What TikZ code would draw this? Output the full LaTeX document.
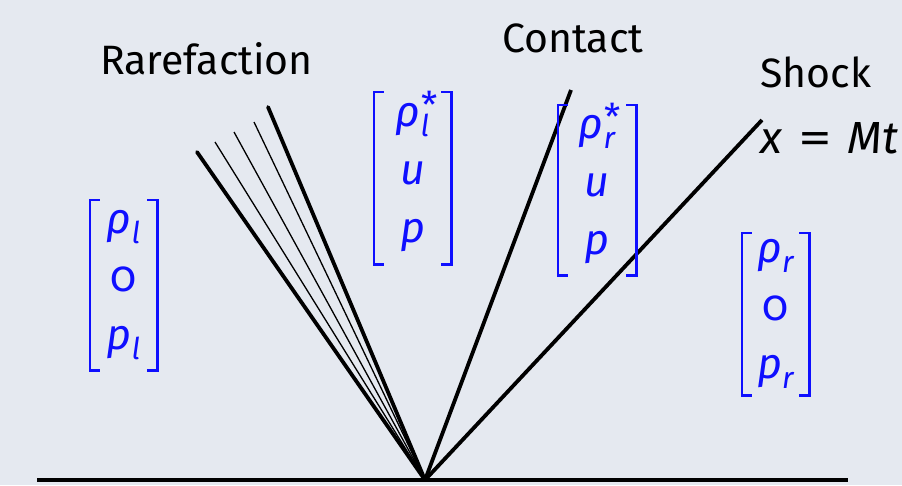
\documentclass[tikz,border=0pt]{standalone}
\usepackage{fontspec}
\setmainfont{Fira Sans}[Numbers=OldStyle]
\definecolor{bg}{RGB}{229,233,240}
\definecolor{vecblue}{RGB}{15,15,255}
% small raised / lowered indices
\newcommand{\lowidx}[1]{\raisebox{-0.22em}{\fontsize{30}{30}\selectfont\itshape #1}}
\newcommand{\highidx}[1]{\smash{\raisebox{0.2em}{\fontsize{37}{37}\selectfont\upshape #1}}}
\newcommand{\bothidx}[2]{\rlap{\hspace{0.02em}\highidx{#2}}\lowidx{#1}}
\newcommand{\eqsign}{\hspace{0.36em}\scalebox{1.5}[1]{\upshape =}\hspace{0.36em}}
\newcommand{\rowgap}{\\[8pt]}
\tikzset{
  wave/.style={line width=3.8pt, black},
  fan/.style={line width=1.3pt, black},
  ground/.style={line width=3.8pt, black},
  label/.style={font=\fontsize{41}{48}\selectfont, anchor=base west, inner sep=0},
  vec/.style={inner sep=0, align=center, text=vecblue,
    font=\fontsize{43}{50}\selectfont\itshape},
  bracket/.style={draw=vecblue, line width=2.6pt},
}
\newcommand{\brackets}[1]{%
  \draw[bracket] ([xshift=10pt]#1.north west) -- (#1.north west) -- (#1.south west) -- ([xshift=10pt]#1.south west);
  \draw[bracket] ([xshift=-10pt]#1.north east) -- (#1.north east) -- (#1.south east) -- ([xshift=-10pt]#1.south east);}
\begin{document}
\begin{tikzpicture}[x=1pt, y=-1pt]
  \fill[bg] (0,0) rectangle (902,485);
  \useasboundingbox (0,0) rectangle (902,485);

  % ground and origin of the fan
  \coordinate (gl) at (37,480);
  \coordinate (gr) at (848,480);
  \coordinate (o) at (425,480);
  \draw[ground] (gl) -- (gr);

  % rarefaction fan
  \coordinate (r1) at (197,152);
  \coordinate (r2) at (215,142);
  \coordinate (r3) at (234,132);
  \coordinate (r4) at (254,122);
  \coordinate (r5) at (268,107);
  \draw[wave, line cap=round] (o) -- (r1);
  \draw[fan] (o) -- (r2);
  \draw[fan] (o) -- (r3);
  \draw[fan] (o) -- (r4);
  \draw[wave, line cap=round] (o) -- (r5);

  % contact and shock
  \coordinate (c) at (571,90);
  \coordinate (s) at (762,120);
  \draw[wave] (o) -- (c);
  \draw[wave] (o) -- (s);

  % labels
  \node[label] (lrare) at (100,74) {Rarefaction};
  \node[label] (lcont) at (502,52) {Contact};
  \node[label] (lshock) at (760,87) {Shock};
  \node[label, font=\fontsize{45}{50}\selectfont] (lspeed) at (760,153) {\itshape x\eqsign\itshape Mt};

  % states
  \node[vec, minimum width=67pt, minimum height=170pt] (vl) at (123.5,285)
    {ρ\lowidx{l}\rowgap\upshape 0\rowgap p\lowidx{l}};
  \node[vec, minimum width=77pt, minimum height=172pt] (vls) at (412.5,178)
    {ρ\bothidx{l}{*}\rowgap u\rowgap p};
  \node[vec, minimum width=78pt, minimum height=170pt] (vrs) at (597,190)
    {ρ\bothidx{r}{*}\rowgap u\rowgap p};
  \node[vec, minimum width=67pt, minimum height=162pt] (vr) at (775.5,314)
    {ρ\lowidx{r}\rowgap\upshape 0\rowgap p\lowidx{r}};
  \brackets{vl}
  \brackets{vls}
  \brackets{vrs}
  \brackets{vr}
\end{tikzpicture}
\end{document}
